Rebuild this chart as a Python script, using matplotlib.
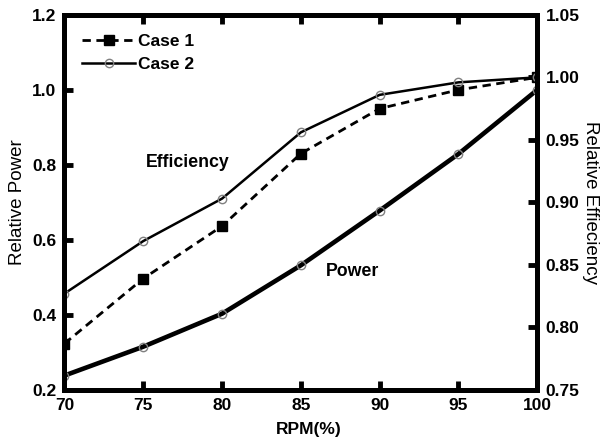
import matplotlib
matplotlib.use('Agg')
import matplotlib.pyplot as plt

plt.rcParams['font.family'] = ['Liberation Sans', 'DejaVu Sans']

# RPM (%) and values
rpm = [70, 75, 80, 85, 90, 95, 100]
power = [0.238, 0.315, 0.403, 0.532, 0.678, 0.829, 1.0]
eff_case1 = [0.787, 0.839, 0.881, 0.939, 0.975, 0.990, 1.0]
eff_case2 = [0.827, 0.869, 0.903, 0.956, 0.986, 0.996, 1.0]

xticks = [70, 75, 80, 85, 90, 95, 100]
power_ticks = [0.2, 0.4, 0.6, 0.8, 1.0, 1.2]
eff_ticks = [0.75, 0.80, 0.85, 0.90, 0.95, 1.00, 1.05]

fig = plt.figure(figsize=(6.14, 4.37), dpi=100)
ax = fig.add_axes([0.105, 0.108, 0.77, 0.858])
ax2 = ax.twinx()

# power curve (both cases coincide)
ax.plot(rpm, power, color='black', lw=3.3, marker='o', ms=6,
        mfc='none', mec='#808080', mew=1.0, zorder=3)

l1, = ax2.plot(rpm, eff_case1, color='black', lw=2.0, ls=(0, (3, 2)),
               marker='s', ms=6.5, mfc='black', mec='black', label='Case 1')
l2, = ax2.plot(rpm, eff_case2, color='black', lw=1.8, ls='-',
               marker='o', ms=6, mfc='none', mec='#808080', mew=1.0,
               label='Case 2')

ax.set_xlim(70, 100)
ax.set_ylim(0.2, 1.2)
ax2.set_ylim(0.75, 1.05)
ax.set_xticks(xticks)
ax.set_yticks(power_ticks)
ax.set_yticklabels(['%.1f' % v for v in power_ticks])
ax2.set_yticks(eff_ticks)
ax2.set_yticklabels(['%.2f' % v for v in eff_ticks])

for a in (ax, ax2):
    for s in a.spines.values():
        s.set_linewidth(3.6)
    a.tick_params(direction='in', length=6.5, width=3.5, labelsize=12.5,
                  pad=6)
    for lab in a.get_xticklabels() + a.get_yticklabels():
        lab.set_fontweight('bold')
ax.tick_params(axis='x', top=True)

ax.set_xlabel('RPM(%)', fontsize=12.5, fontweight='bold', labelpad=1)
ax.xaxis.set_label_coords(0.517, -0.085)
ax.set_ylabel('Relative Power', fontsize=13.5, labelpad=4)
ax2.set_ylabel('Relative Effieciency', fontsize=13.5, rotation=-90,
               labelpad=14)

ax.text(77.8, 0.805, 'Efficiency', fontsize=12.8, fontweight='bold',
        ha='center', va='center')
ax.text(88.3, 0.515, 'Power', fontsize=12.8, fontweight='bold',
        ha='center', va='center')

leg = ax2.legend(handles=[l1, l2], loc='upper left', frameon=False,
                 handlelength=3.0, handletextpad=0.2, borderaxespad=0.5,
                 labelspacing=0.45, bbox_to_anchor=(0.005, 0.99),
                 prop={'size': 12.5, 'weight': 'bold'})

fig.savefig('out.png', dpi=100)
